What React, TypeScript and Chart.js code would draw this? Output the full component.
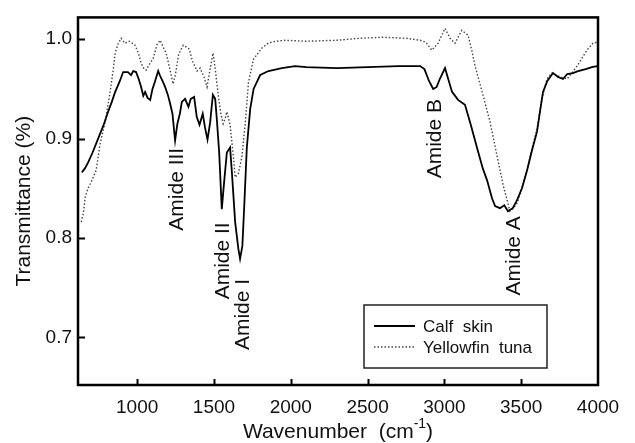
import React, { useEffect, useRef } from "react";
import { Chart, registerables } from "chart.js";
Chart.register(...registerables);

const calfWavenumber = [640, 660, 681, 710, 746, 780, 811, 835, 857, 885, 909, 940, 960, 975, 993, 1010, 1026, 1040, 1052, 1068, 1085, 1100, 1115, 1125, 1137, 1150, 1165, 1182, 1200, 1215, 1230, 1247, 1262, 1278, 1291, 1312, 1334, 1349, 1371, 1388, 1406, 1427, 1442, 1458, 1475, 1493, 1508, 1519, 1534, 1551, 1566, 1584, 1605, 1616, 1638, 1659, 1670, 1685, 1698, 1714, 1736, 1758, 1801, 1855, 1942, 2028, 2100, 2300, 2500, 2700, 2842, 2870, 2900, 2927, 2950, 2970, 3004, 3025, 3050, 3089, 3134, 3170, 3212, 3250, 3278, 3310, 3330, 3362, 3390, 3414, 3445, 3473, 3505, 3538, 3570, 3603, 3625, 3642, 3670, 3707, 3740, 3772, 3800, 3837, 3870, 3920, 3960, 3995];
const calfTransmittance = [0.866, 0.870, 0.876, 0.886, 0.900, 0.913, 0.927, 0.937, 0.947, 0.957, 0.967, 0.967, 0.964, 0.968, 0.967, 0.960, 0.952, 0.943, 0.947, 0.941, 0.939, 0.950, 0.957, 0.962, 0.968, 0.963, 0.958, 0.952, 0.944, 0.935, 0.925, 0.898, 0.915, 0.925, 0.937, 0.940, 0.932, 0.940, 0.942, 0.922, 0.914, 0.925, 0.911, 0.899, 0.916, 0.944, 0.940, 0.919, 0.886, 0.829, 0.856, 0.886, 0.891, 0.868, 0.816, 0.789, 0.779, 0.792, 0.835, 0.891, 0.930, 0.950, 0.964, 0.968, 0.971, 0.973, 0.972, 0.971, 0.972, 0.973, 0.973, 0.970, 0.958, 0.950, 0.952, 0.960, 0.971, 0.960, 0.947, 0.939, 0.934, 0.915, 0.891, 0.870, 0.858, 0.840, 0.832, 0.830, 0.833, 0.827, 0.830, 0.838, 0.850, 0.868, 0.888, 0.907, 0.930, 0.947, 0.958, 0.966, 0.962, 0.960, 0.965, 0.966, 0.968, 0.970, 0.972, 0.973];

const tunaWavenumber = [636, 650, 662, 680, 700, 733, 759, 792, 824, 845, 857, 875, 896, 920, 950, 987, 1010, 1026, 1045, 1059, 1080, 1105, 1130, 1150, 1170, 1189, 1210, 1234, 1250, 1270, 1300, 1320, 1340, 1360, 1390, 1410, 1435, 1455, 1475, 1494, 1510, 1527, 1545, 1560, 1573, 1584, 1605, 1627, 1638, 1659, 1681, 1703, 1725, 1758, 1811, 1853, 1900, 1963, 2100, 2300, 2450, 2600, 2750, 2842, 2880, 2918, 2959, 3004, 3037, 3069, 3113, 3154, 3178, 3200, 3251, 3297, 3349, 3380, 3408, 3427, 3450, 3473, 3505, 3538, 3570, 3603, 3635, 3668, 3700, 3740, 3798, 3830, 3863, 3900, 3928, 3967, 3995];
const tunaTransmittance = [0.816, 0.825, 0.841, 0.850, 0.856, 0.868, 0.895, 0.917, 0.947, 0.970, 0.986, 0.995, 1.001, 0.996, 0.998, 0.994, 0.985, 0.976, 0.970, 0.969, 0.975, 0.981, 0.995, 0.999, 0.992, 0.986, 0.972, 0.955, 0.965, 0.985, 0.994, 0.992, 0.990, 0.978, 0.968, 0.971, 0.962, 0.952, 0.970, 0.986, 0.968, 0.945, 0.925, 0.915, 0.920, 0.927, 0.914, 0.881, 0.861, 0.865, 0.881, 0.914, 0.957, 0.980, 0.991, 0.996, 0.998, 0.999, 0.998, 0.999, 1.001, 1.002, 1.001, 0.999, 0.997, 0.989, 0.996, 1.011, 1.001, 0.996, 1.009, 1.004, 0.989, 0.973, 0.944, 0.917, 0.878, 0.855, 0.838, 0.827, 0.830, 0.835, 0.850, 0.868, 0.890, 0.910, 0.940, 0.960, 0.966, 0.963, 0.960, 0.966, 0.973, 0.982, 0.989, 0.996, 0.997];

const seriesNames = ["Calf  skin", "Yellowfin  tuna"];
const xTickValues = [1000, 1500, 2000, 2500, 3000, 3500, 4000];
const yTickValues = [0.7, 0.8, 0.9, 1.0];
const bandLabels = ["Amide III", "Amide II", "Amide I", "Amide B", "Amide A"];
const bandWavenumbers = [1247, 1547, 1677, 2927, 3441];
const bandLevels = [0.849, 0.777, 0.723, 0.9, 0.782];

const FONT = "'Liberation Sans', Arial, Helvetica, sans-serif";
const INK = "#111";

const decorPlugin = {
  id: "decor",
  afterDatasetsDraw(chart: any) {
    const { ctx, chartArea: a, scales } = chart;
    const x = scales.x;
    const y = scales.y;
    ctx.save();
    // frame
    ctx.strokeStyle = "#000";
    ctx.lineWidth = 2.5;
    ctx.strokeRect(a.left, a.top, a.right - a.left, a.bottom - a.top);
    // inward ticks
    ctx.lineWidth = 2;
    ctx.beginPath();
    xTickValues.forEach((v) => {
      if (v >= x.max) return;
      const px = Math.round(x.getPixelForValue(v)) + 0.5;
      ctx.moveTo(px, a.bottom);
      ctx.lineTo(px, a.bottom - 6);
    });
    yTickValues.forEach((v) => {
      const py = Math.round(y.getPixelForValue(v)) + 0.5;
      ctx.moveTo(a.left, py);
      ctx.lineTo(a.left + 7, py);
    });
    ctx.stroke();

    // band annotations
    const fs = 21;
    ctx.fillStyle = INK;
    ctx.font = `${fs}px ${FONT}`;
    bandLabels.forEach((t, i) => {
      const px = x.getPixelForValue(bandWavenumbers[i]);
      const py = y.getPixelForValue(bandLevels[i]);
      ctx.save();
      ctx.translate(px, py);
      ctx.rotate(-Math.PI / 2);
      ctx.textAlign = "center";
      ctx.textBaseline = "alphabetic";
      ctx.fillText(t, 0, fs * 0.36);
      ctx.restore();
    });

    // legend
    const bw = 183, bh = 63;
    const bx = a.right - 51 - bw;
    const by = a.bottom - 17 - bh;
    ctx.fillStyle = "#fff";
    ctx.fillRect(bx, by, bw, bh);
    ctx.strokeStyle = "#222";
    ctx.lineWidth = 1.5;
    ctx.setLineDash([]);
    ctx.strokeRect(bx, by, bw, bh);
    const rows = [by + 21, by + 42];
    ctx.font = `17px ${FONT}`;
    ctx.textAlign = "left";
    ctx.textBaseline = "middle";
    rows.forEach((ry, i) => {
      ctx.beginPath();
      if (i === 0) {
        ctx.strokeStyle = "#000";
        ctx.lineWidth = 1.8;
        ctx.setLineDash([]);
      } else {
        ctx.strokeStyle = "#444";
        ctx.lineWidth = 1.4;
        ctx.setLineDash([1.5, 2]);
      }
      ctx.moveTo(bx + 10, ry);
      ctx.lineTo(bx + 51, ry);
      ctx.stroke();
      ctx.setLineDash([]);
      ctx.fillStyle = INK;
      ctx.fillText(seriesNames[i], bx + 59, ry + 1);
    });

    // x axis title with superscript
    const tfs = 21;
    const cy = 432;
    ctx.fillStyle = INK;
    ctx.textBaseline = "middle";
    ctx.font = `${tfs}px ${FONT}`;
    const partA = "Wavenumber  (cm";
    const sup = "-1";
    const partB = ")";
    const wA = ctx.measureText(partA).width;
    const wB = ctx.measureText(partB).width;
    ctx.font = `${14}px ${FONT}`;
    const wS = ctx.measureText(sup).width;
    const total = wA + wS + wB;
    let sx = (a.left + a.right) / 2 - total / 2;
    ctx.font = `${tfs}px ${FONT}`;
    ctx.fillText(partA, sx, cy);
    sx += wA;
    ctx.font = `${14}px ${FONT}`;
    ctx.fillText(sup, sx, cy - 8);
    sx += wS;
    ctx.font = `${tfs}px ${FONT}`;
    ctx.fillText(partB, sx, cy);
    ctx.restore();
  },
};

export default function App() {
  const ref = useRef<HTMLCanvasElement | null>(null);
  useEffect(() => {
    if (!ref.current) return;
    const chart = new Chart(ref.current, {
      type: "line",
      data: {
        datasets: [
          {
            label: seriesNames[0],
            data: calfWavenumber.map((w, i) => ({ x: w, y: calfTransmittance[i] })),
            borderColor: "#000",
            borderWidth: 1.8,
            pointRadius: 0,
            tension: 0,
            fill: false,
          },
          {
            label: seriesNames[1],
            data: tunaWavenumber.map((w, i) => ({ x: w, y: tunaTransmittance[i] })),
            borderColor: "#444",
            borderWidth: 1.4,
            borderDash: [1.5, 2],
            pointRadius: 0,
            tension: 0,
            fill: false,
          },
        ],
      },
      options: {
        animation: false,
        responsive: true,
        maintainAspectRatio: false,
        layout: { padding: { left: 0, top: 9, right: 37, bottom: 0 } },
        plugins: { legend: { display: false }, tooltip: { enabled: false } },
        scales: {
          x: {
            type: "linear",
            min: 615,
            max: 4000,
            grid: { display: false, drawTicks: false },
            border: { display: false },
            afterBuildTicks: (s: any) => {
              s.ticks = xTickValues.map((v) => ({ value: v }));
            },
            afterFit: (s: any) => {
              s.height = 58;
            },
            ticks: {
              color: INK,
              font: { size: 19, family: FONT },
              padding: 11,
              maxRotation: 0,
              autoSkip: false,
              callback: (v: any) => String(v),
            },
          },
          y: {
            type: "linear",
            min: 0.652,
            max: 1.022,
            grid: { display: false, drawTicks: false },
            border: { display: false },
            afterBuildTicks: (s: any) => {
              s.ticks = yTickValues.map((v) => ({ value: v }));
            },
            afterFit: (s: any) => {
              s.width = 78;
            },
            title: {
              display: true,
              text: "Transmittance (%)",
              color: INK,
              font: { size: 21, family: FONT },
              padding: { top: 12, bottom: 0 },
            },
            ticks: {
              color: INK,
              font: { size: 19, family: FONT },
              padding: 6,
              autoSkip: false,
              callback: (v: any) => Number(v).toFixed(1),
            },
          },
        },
      },
      plugins: [decorPlugin],
    });
    return () => chart.destroy();
  }, []);
  return (
    <div style={{ position: "absolute", left: 0, top: 0, width: 635, height: 443, background: "#fff" }}>
      <canvas ref={ref} />
    </div>
  );
}
